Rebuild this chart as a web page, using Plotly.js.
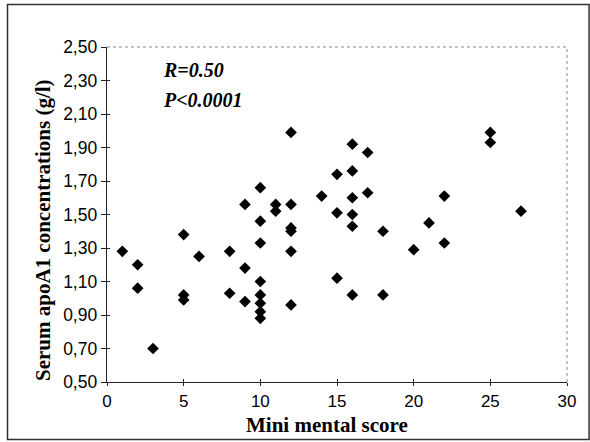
<!DOCTYPE html>
<html><head><meta charset="utf-8">
<script src="https://cdn.plot.ly/plotly-3.0.1.min.js"></script>
<style>html,body{margin:0;padding:0;background:#fff}#chart{width:590px;height:442px}</style>
</head><body><div id="chart"></div>
<script>
const miniMental = [1,2,2,3,5,5,5,6,8,8,9,9,9,10,10,10,10,10,10,10,10,11,11,12,12,12,12,12,12,14,15,15,15,16,16,16,16,16,16,17,17,18,18,20,21,22,22,25,25,27];
const apoA1 = [1.28,1.20,1.06,0.70,1.38,1.02,0.99,1.25,1.28,1.03,1.56,1.18,0.98,1.66,1.46,1.33,1.10,1.02,0.97,0.92,0.88,1.56,1.52,1.99,1.56,1.42,1.40,1.28,0.96,1.61,1.74,1.51,1.12,1.92,1.76,1.60,1.50,1.43,1.02,1.87,1.63,1.40,1.02,1.29,1.45,1.61,1.33,1.99,1.93,1.52];
const yTickVals = [0.5,0.7,0.9,1.1,1.3,1.5,1.7,1.9,2.1,2.3,2.5];
const yTickText = ["0,50","0,70","0,90","1,10","1,30","1,50","1,70","1,90","2,10","2,30","2,50"];
const xTickVals = [0,5,10,15,20,25,30];
const statsText = ["R=0.50","P<0.0001"];
const xTitle = "Mini mental score";
const yTitle = "Serum apoA1 concentrations (g/l)";

const serif = '"Liberation Serif", "Times New Roman", serif';
const sans = '"Liberation Sans", Arial, sans-serif';

const data = [{
  x: miniMental, y: apoA1, type: 'scatter', mode: 'markers',
  marker: {symbol: 'diamond', size: 9, color: '#000'},
  hoverinfo: 'none', showlegend: false
},{
  x: [null], y: [null], xaxis: 'x2', yaxis: 'y2', type: 'scatter', showlegend: false
}];

const px = v => (v - 107) / 460;
const py = v => (382 - v) / 335;

const layout = {
  width: 590, height: 442,
  margin: {l: 107, r: 23, t: 47, b: 60},
  paper_bgcolor: '#fff', plot_bgcolor: '#fff',
  showlegend: false,
  xaxis: {
    range: [0, 30], tickvals: xTickVals, ticks: 'outside', ticklen: 3, tickcolor: '#222',
    showgrid: false, zeroline: false, showline: true, linecolor: '#222', linewidth: 1.3,
    tickfont: {family: sans, size: 17, color: '#000'}
  },
  yaxis: {
    range: [0.5, 2.5], tickvals: yTickVals, ticktext: yTickText, ticks: 'outside', ticklen: 5, tickcolor: '#222',
    showgrid: false, zeroline: false, showline: true, linecolor: '#222', linewidth: 1.3,
    tickfont: {family: sans, size: 17.5, color: '#000'}
  },
  xaxis2: {overlaying: 'x', range: [0, 30], tickvals: xTickVals, ticks: 'inside', ticklen: 3, tickcolor: '#222',
    showticklabels: false, showgrid: false, zeroline: false, showline: false},
  yaxis2: {overlaying: 'y', range: [0.5, 2.5], tickvals: yTickVals, ticks: 'inside', ticklen: 3, tickcolor: '#222',
    showticklabels: false, showgrid: false, zeroline: false, showline: false},
  shapes: [
    {type: 'line', xref: 'paper', yref: 'paper', x0: 0, x1: 1, y0: 1, y1: 1, line: {color: '#888', width: 1, dash: 'dot'}},
    {type: 'line', xref: 'paper', yref: 'paper', x0: 1, x1: 1, y0: 0, y1: 1, line: {color: '#888', width: 1, dash: 'dot'}},
    {type: 'rect', xref: 'paper', yref: 'paper', x0: -0.2163, x1: 1.048, y0: -0.1716, y1: 1.1269, line: {color: '#333', width: 1.5}}
  ],
  annotations: [
    {xref: 'paper', yref: 'paper', x: px(161), y: py(70), xanchor: 'left', yanchor: 'middle', showarrow: false,
     text: '<b><i>' + statsText[0] + '</i></b>', font: {family: serif, size: 20, color: '#000'}},
    {xref: 'paper', yref: 'paper', x: px(161), y: py(100), xanchor: 'left', yanchor: 'middle', showarrow: false,
     text: '<b><i>' + statsText[1] + '</i></b>', font: {family: serif, size: 20, color: '#000'}},
    {xref: 'paper', yref: 'paper', x: px(327), y: py(425), xanchor: 'center', yanchor: 'middle', showarrow: false, borderpad: 0,
     text: '<b>' + xTitle + '</b>', font: {family: serif, size: 21, color: '#000'}},
    {xref: 'paper', yref: 'paper', x: px(43), y: py(230), xanchor: 'center', yanchor: 'middle', showarrow: false, textangle: -90, borderpad: 0,
     text: '<b>' + yTitle + '</b>', font: {family: serif, size: 21, color: '#000'}}
  ]
};
Plotly.newPlot('chart', data, layout, {staticPlot: true, displayModeBar: false});
</script></body></html>
